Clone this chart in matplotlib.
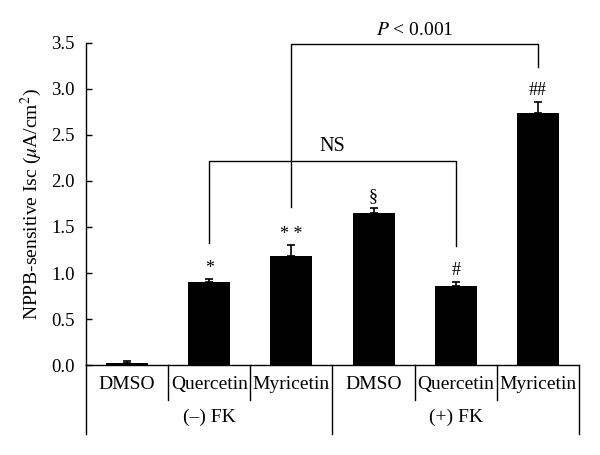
import matplotlib
matplotlib.use("Agg")
import matplotlib.pyplot as plt
import matplotlib.transforms as mtransforms

categories = ["DMSO", "Quercetin", "Myricetin", "DMSO", "Quercetin", "Myricetin"]
groups = ["(\u2013) FK", "(+) FK"]
values = [0.02, 0.90, 1.18, 1.65, 0.86, 2.74]
errors = [0.02, 0.03, 0.12, 0.06, 0.04, 0.12]
marks = ["", "*", "* *", "\u00a7", "#", "##"]
yticks = [0.0, 0.5, 1.0, 1.5, 2.0, 2.5, 3.0, 3.5]

plt.rcParams['font.family'] = ['Liberation Serif', 'DejaVu Serif']
plt.rcParams['mathtext.fontset'] = 'stix'

fig = plt.figure(figsize=(6, 4.55), dpi=100)
ax = fig.add_axes([0.1433, 0.1978, 0.8217, 0.7077])

x = list(range(len(categories)))
ax.bar(x, values, width=0.51, color='black', zorder=2)
ax.errorbar(x, values, yerr=[[0]*len(errors), errors], fmt='none', ecolor='black',
            elinewidth=1.2, capsize=3, capthick=1.2, zorder=3)

ax.set_xlim(-0.5, 5.5)
ax.set_ylim(0, 3.5)
ax.set_yticks(yticks)
ax.set_yticklabels([f"{t:.1f}" for t in yticks], fontsize=13.5)
ax.tick_params(axis='y', direction='in', length=4, width=1, pad=8)
ax.set_xticks([])
for s in ['top', 'right']:
    ax.spines[s].set_visible(False)
ax.spines['left'].set_linewidth(1)
ax.spines['bottom'].set_linewidth(1)
ax.set_ylabel(r"NPPB-sensitive Isc ($\mu$A/cm$^2$)", fontsize=14, labelpad=5)

trans = mtransforms.blended_transform_factory(ax.transData, ax.transAxes)
# category separators and labels
for i in range(len(categories) + 1):
    xb = i - 0.5
    bottom = -0.214 if i in (0, 3, 6) else -0.109
    ax.plot([xb, xb], [0, bottom], color='black', lw=1, transform=trans, clip_on=False)
for i, c in enumerate(categories):
    ax.text(i, -0.062, c, ha='center', va='center', fontsize=14, transform=trans)
ax.text(1, -0.164, groups[0], ha='center', va='center', fontsize=14, transform=trans)
ax.text(4, -0.164, groups[1], ha='center', va='center', fontsize=14, transform=trans)

# significance marks
for i, m in enumerate(marks):
    if m:
        ax.text(i, values[i] + errors[i] + 0.03, m, ha='center', va='bottom', fontsize=13)

# brackets
ax.plot([1, 1, 4, 4], [1.33, 2.22, 2.22, 1.29], color='black', lw=1, clip_on=False)
ax.text(2.5, 2.27, "NS", ha='center', va='bottom', fontsize=14.5)
ax.plot([2, 2, 5, 5], [1.72, 3.49, 3.49, 3.24], color='black', lw=1, clip_on=False)
ax.text(3.5, 3.54, r"$P$ < 0.001", ha='center', va='bottom', fontsize=14, clip_on=False)

fig.savefig("out.png", dpi=100)
